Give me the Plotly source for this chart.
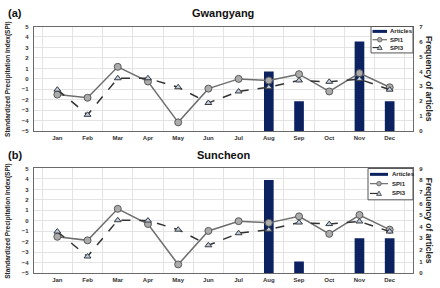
import plotly.graph_objects as go

months = ["Jan", "Feb", "Mar", "Apr", "May", "Jun", "Jul", "Aug", "Sep", "Oct", "Nov", "Dec"]

spi1_gwangyang = [-1.5, -1.8, 1.15, -0.25, -4.15, -0.93, 0.0, -0.15, 0.45, -1.2, 0.55, -0.8]
spi3_gwangyang = [-1.03, -3.43, 0.06, 0.06, -0.8, -2.3, -1.2, -0.8, -0.15, -0.28, -0.03, -1.03]
articles_gwangyang = [0, 0, 0, 0, 0, 0, 0, 4, 2, 0, 6, 2]

spi1_suncheon = [-1.52, -1.86, 1.15, -0.3, -4.16, -0.96, -0.03, -0.19, 0.43, -1.24, 0.56, -0.84]
spi3_suncheon = [-1.02, -3.4, 0.06, 0.03, -0.84, -2.33, -1.18, -0.84, -0.16, -0.31, -0.06, -1.02]
articles_suncheon = [0, 0, 0, 0, 0, 0, 0, 8, 1, 0, 3, 3]

legend_labels = ["Articles", "SPI1", "SPI3"]

FONT = "Liberation Sans"
BAR_COLOR = "#0c2160"
AXIS_LINE = "#6a6a6a"
GRID = "#e3e3e3"
SPI1_LINE = "#6e6e6e"
SPI1_FILL = "#ababab"
SPI1_EDGE = "#5a5a5a"
SPI3_LINE = "#333333"
SPI3_FILL = "#bccde2"
SPI3_EDGE = "#3a3a3a"

W, H = 440, 288
def px(x):
    return x / W
def py(y):
    return 1 - y / H

fig = go.Figure()

panels = [
    dict(articles=articles_gwangyang, spi1=spi1_gwangyang, spi3=spi3_gwangyang,
         xa="x", ybar="y", yspi="y2"),
    dict(articles=articles_suncheon, spi1=spi1_suncheon, spi3=spi3_suncheon,
         xa="x2", ybar="y3", yspi="y4"),
]

for p in panels:
    fig.add_trace(go.Bar(x=months, y=p["articles"], name=legend_labels[0], width=0.32,
                         marker=dict(color=BAR_COLOR, line=dict(width=0)),
                         xaxis=p["xa"], yaxis=p["ybar"], showlegend=False))
    fig.add_trace(go.Scatter(x=months, y=p["spi1"], name=legend_labels[1], mode="lines+markers",
                             line=dict(color=SPI1_LINE, width=1.5),
                             marker=dict(symbol="circle", size=7, color=SPI1_FILL,
                                         line=dict(color=SPI1_EDGE, width=1)),
                             xaxis=p["xa"], yaxis=p["yspi"], showlegend=False))
    fig.add_trace(go.Scatter(x=months, y=p["spi3"], name=legend_labels[2], mode="lines+markers",
                             line=dict(color=SPI3_LINE, width=1.5, dash="dash"),
                             marker=dict(symbol="triangle-up", size=6, color=SPI3_FILL,
                                         line=dict(color=SPI3_EDGE, width=1)),
                             xaxis=p["xa"], yaxis=p["yspi"], showlegend=False))

XD = [px(34), px(413)]
top_dom = [py(131), py(24)]
bot_dom = [py(276), py(169)]

tickfont = dict(family=FONT, size=6, color="#333333", weight="bold")

def xaxis(anchor):
    return dict(domain=XD, anchor=anchor, type="category", tickson="boundaries",
                showgrid=True, gridcolor=GRID, gridwidth=1, ticks="",
                showline=True, linecolor=AXIS_LINE, linewidth=1.2, mirror=True,
                tickfont=tickfont, fixedrange=True)

def bar_axis(dom, anchor, top):
    return dict(domain=dom, anchor=anchor, side="right", range=[0, top], dtick=1,
                showgrid=False, zeroline=False, showline=True, linecolor=AXIS_LINE,
                linewidth=1.2, ticks="", tickfont=tickfont, ticklabelstandoff=4)

def spi_axis(over, anchor):
    return dict(overlaying=over, anchor=anchor, side="left", range=[-5, 5], dtick=1,
                showgrid=True, gridcolor=GRID, gridwidth=1, zeroline=False,
                showline=True, linecolor=AXIS_LINE, linewidth=1.2, ticks="",
                tickfont=tickfont, ticklabelstandoff=3)

fig.update_layout(
    width=W, height=H,
    margin=dict(l=0, r=0, t=0, b=0),
    paper_bgcolor="white", plot_bgcolor="white",
    showlegend=False,
    xaxis=xaxis("y"),
    yaxis=bar_axis(top_dom, "x", 7),
    yaxis2=spi_axis("y", "x"),
    xaxis2=xaxis("y3"),
    yaxis3=bar_axis(bot_dom, "x2", 9),
    yaxis4=spi_axis("y3", "x2"),
)

annots = []
shapes = []
for label, title, dom, ty in [("(a)", "Gwangyang", top_dom, 10), ("(b)", "Suncheon", bot_dom, 155)]:
    annots.append(dict(text=label, x=px(6), y=py(ty), xref="paper", yref="paper",
                       xanchor="left", yanchor="middle", showarrow=False,
                       font=dict(family=FONT, size=11, color="#111111", weight="bold")))
    annots.append(dict(text=title, x=px(223), y=py(ty), xref="paper", yref="paper",
                       xanchor="center", yanchor="middle", showarrow=False,
                       font=dict(family=FONT, size=11, color="#111111", weight="bold")))
    annots.append(dict(text="Standardized Precipitation Index(SPI)", x=px(8),
                       y=(dom[0] + dom[1]) / 2, xref="paper", yref="paper",
                       xanchor="center", yanchor="middle", textangle=-90, showarrow=False,
                       font=dict(family=FONT, size=6.5, color="#222222", weight="bold")))
    annots.append(dict(text="Frequency of articles", x=px(429),
                       y=(dom[0] + dom[1]) / 2, xref="paper", yref="paper",
                       xanchor="center", yanchor="middle", textangle=90, showarrow=False,
                       font=dict(family=FONT, size=8.5, color="#222222", weight="bold")))

# compact legend boxes (Plotly's built-in legend rows are too tall for this size)
legend_boxes = [
    dict(x0=371, x1=413, y0=24, y1=51, rows=[29, 37.5, 45.5], s0=372.5, s1=387, tx=388),
    dict(x0=368, x1=413, y0=169, y1=201, rows=[175, 184.5, 194.5], s0=370, s1=388, tx=390),
]
for lb in legend_boxes:
    shapes.append(dict(type="rect", xref="paper", yref="paper",
                       x0=px(lb["x0"]), x1=px(lb["x1"]), y0=py(lb["y1"]), y1=py(lb["y0"]),
                       fillcolor="white", line=dict(color="#555555", width=1), layer="above"))
    r0, r1, r2 = lb["rows"]
    s0, s1 = lb["s0"], lb["s1"]
    mid = (s0 + s1) / 2
    shapes.append(dict(type="line", xref="paper", yref="paper", x0=px(s0), x1=px(s1),
                       y0=py(r0), y1=py(r0), line=dict(color=BAR_COLOR, width=3), layer="above"))
    shapes.append(dict(type="line", xref="paper", yref="paper", x0=px(s0), x1=px(s1),
                       y0=py(r1), y1=py(r1), line=dict(color=SPI1_LINE, width=1.2), layer="above"))
    shapes.append(dict(type="circle", xref="paper", yref="paper",
                       x0=px(mid - 2.3), x1=px(mid + 2.3), y0=py(r1 + 2.3), y1=py(r1 - 2.3),
                       fillcolor=SPI1_FILL, line=dict(color=SPI1_EDGE, width=0.8), layer="above"))
    shapes.append(dict(type="line", xref="paper", yref="paper", x0=px(s0), x1=px(s1),
                       y0=py(r2), y1=py(r2), line=dict(color=SPI3_LINE, width=1.2, dash="dash"),
                       layer="above"))
    tri = "M {a},{b} L {c},{d} L {e},{f} Z".format(
        a=px(mid - 2.4), b=py(r2 + 2), c=px(mid + 2.4), d=py(r2 + 2), e=px(mid), f=py(r2 - 2.4))
    shapes.append(dict(type="path", xref="paper", yref="paper", path=tri,
                       fillcolor=SPI3_FILL, line=dict(color=SPI3_EDGE, width=0.8), layer="above"))
    for text, r in zip(legend_labels, lb["rows"]):
        annots.append(dict(text=text, x=px(lb["tx"]), y=py(r), xref="paper", yref="paper",
                           xanchor="left", yanchor="middle", showarrow=False,
                           font=dict(family=FONT, size=6, color="#222222", weight="bold")))

fig.update_layout(annotations=annots, shapes=shapes)

fig.write_html("out.html")
